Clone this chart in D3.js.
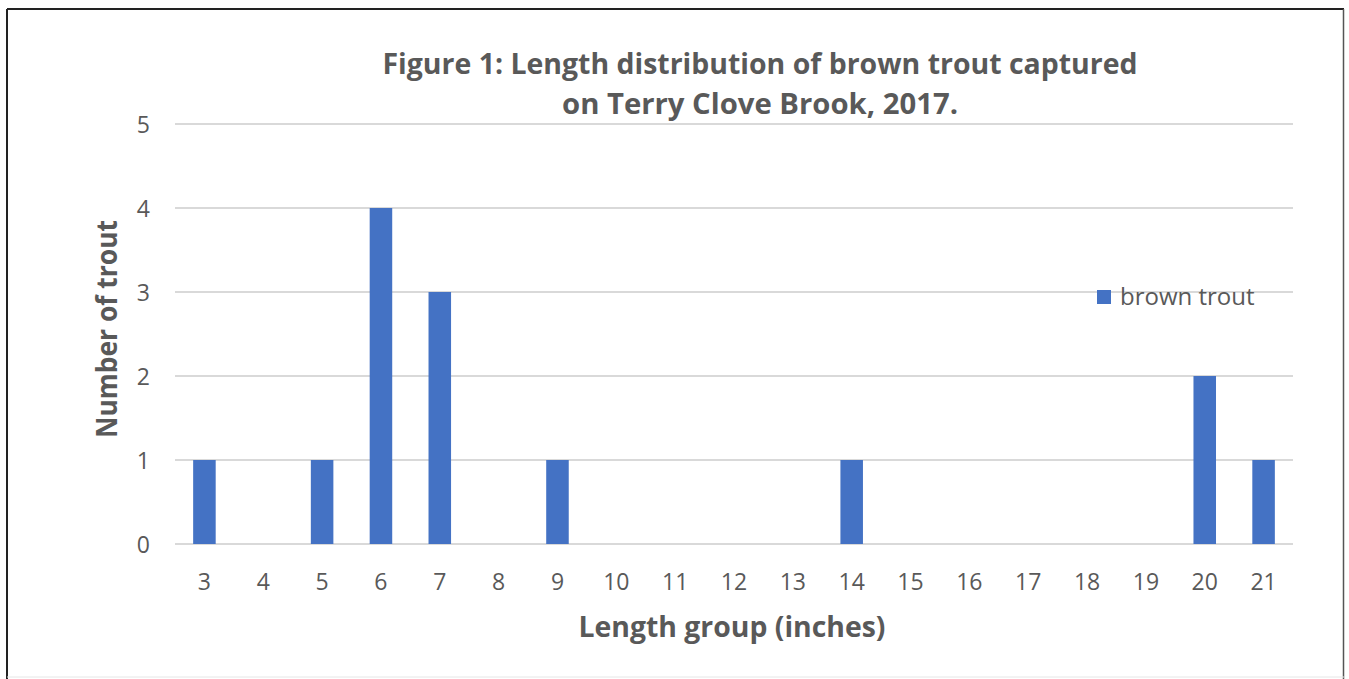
<!DOCTYPE html>
<html>
<head>
<meta charset="utf-8">
<script src="https://cdn.jsdelivr.net/npm/d3@7"></script>
<style>
  html, body { margin: 0; padding: 0; background: #fff; }
  svg { display: block; }
</style>
</head>
<body>
<script>
const categories = ["3","4","5","6","7","8","9","10","11","12","13","14","15","16","17","18","19","20","21"];
const brownTrout = [1,0,1,4,3,0,1,0,0,0,0,1,0,0,0,0,0,2,1];
const yTicks = [0,1,2,3,4,5];
const titleLines = ["Figure 1: Length distribution of brown trout captured", "on Terry Clove Brook, 2017."];
const seriesName = "brown trout";
const xTitle = "Length group (inches)";
const yTitle = "Number of trout";

const W = 1349, H = 679;
const svg = d3.select("body").append("svg").attr("width", W).attr("height", H);
const font = "'Open Sans', 'Noto Sans', sans-serif";
const textCol = "#595959";

// frame
svg.append("line").attr("x1", 7).attr("y1", 9).attr("x2", 1344).attr("y2", 9).attr("stroke", "#222").attr("stroke-width", 2);
svg.append("line").attr("x1", 7).attr("y1", 9).attr("x2", 7).attr("y2", 679).attr("stroke", "#222").attr("stroke-width", 2);
svg.append("line").attr("x1", 1343.5).attr("y1", 9).attr("x2", 1343.5).attr("y2", 679).attr("stroke", "#555").attr("stroke-width", 1.5);
svg.append("line").attr("x1", 7).attr("y1", 677).attr("x2", 1344).attr("y2", 677).attr("stroke", "#e6e6e6").attr("stroke-width", 1);

const plot = {left: 175, right: 1293, top: 124, bottom: 544};

const x = d3.scaleBand().domain(categories).range([plot.left, plot.right]).paddingInner(0.617).paddingOuter(0.3085);
const y = d3.scaleLinear().domain([0, 5]).range([plot.bottom, plot.top]);

// gridlines
svg.append("g").selectAll("line").data(yTicks).join("line")
  .attr("x1", plot.left).attr("x2", plot.right)
  .attr("y1", d => y(d)).attr("y2", d => y(d))
  .attr("stroke", "#d9d9d9").attr("stroke-width", 2);

// y axis labels
const yAxis = d3.axisLeft(y).tickValues(yTicks).tickSize(0).tickPadding(0).tickFormat(d3.format("d"));
const gy = svg.append("g").attr("transform", `translate(150,0)`).call(yAxis);
gy.select(".domain").remove();
gy.selectAll("text").attr("font-family", font).attr("font-size", 23).attr("fill", textCol).attr("dy", "0.36em");

// x axis labels
const xAxis = d3.axisBottom(x).tickSize(0).tickPadding(0);
const gx = svg.append("g").attr("transform", `translate(0,${plot.bottom})`).call(xAxis);
gx.select(".domain").remove();
gx.selectAll("text").attr("font-family", font).attr("font-size", 23).attr("fill", textCol).attr("dy", null).attr("y", 46);

// bars
svg.append("g").selectAll("rect").data(categories.map((c, i) => ({c, v: brownTrout[i]}))).join("rect")
  .attr("x", d => x(d.c)).attr("width", x.bandwidth())
  .attr("y", d => y(d.v)).attr("height", d => y(0) - y(d.v))
  .attr("fill", "#4472C4");

// title
const tl = svg.append("g");
tl.append("text").attr("x", 760).attr("y", 74).attr("text-anchor", "middle")
  .attr("font-family", font).attr("font-weight", "bold").attr("font-size", 29).attr("fill", textCol)
  .attr("textLength", 755).attr("lengthAdjust", "spacingAndGlyphs").text(titleLines[0]);
tl.append("text").attr("x", 760).attr("y", 114).attr("text-anchor", "middle")
  .attr("font-family", font).attr("font-weight", "bold").attr("font-size", 29).attr("fill", textCol)
  .attr("textLength", 396).attr("lengthAdjust", "spacingAndGlyphs").text(titleLines[1]);

// x title
svg.append("text").attr("x", 732).attr("y", 637).attr("text-anchor", "middle")
  .attr("font-family", font).attr("font-weight", "bold").attr("font-size", 29).attr("fill", textCol)
  .attr("textLength", 307).attr("lengthAdjust", "spacingAndGlyphs").text(xTitle);

// y title
svg.append("text").attr("transform", "translate(117,329) rotate(-90)").attr("text-anchor", "middle")
  .attr("font-family", font).attr("font-weight", "bold").attr("font-size", 29).attr("fill", textCol)
  .attr("textLength", 218).attr("lengthAdjust", "spacingAndGlyphs").text(yTitle);

// legend
const lg = svg.append("g");
lg.append("rect").attr("x", 1097).attr("y", 290).attr("width", 14).attr("height", 14).attr("fill", "#4472C4");
lg.append("text").attr("x", 1120).attr("y", 305).attr("font-family", font).attr("font-size", 24).attr("fill", textCol).text(seriesName);
</script>
</body>
</html>
